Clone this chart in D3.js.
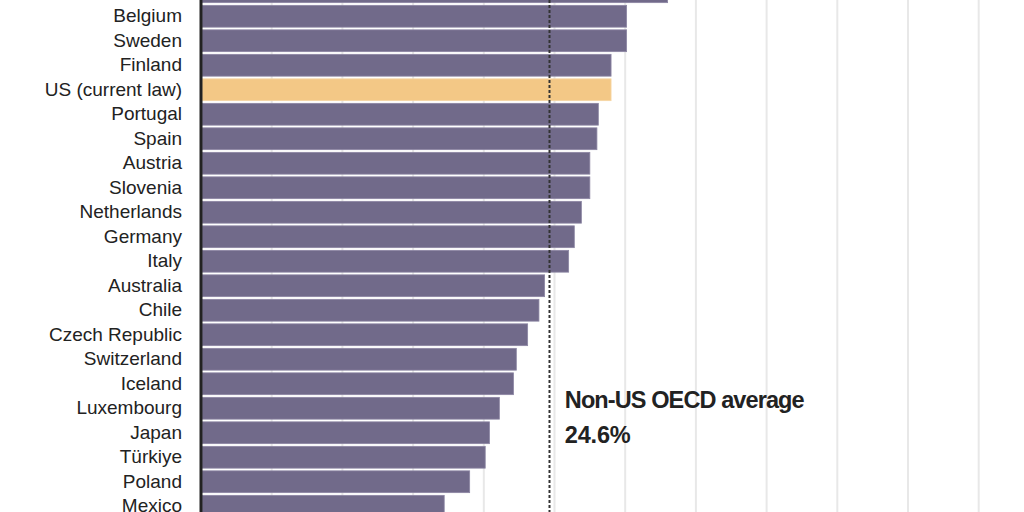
<!DOCTYPE html>
<html>
<head>
<meta charset="utf-8">
<script src="https://cdn.jsdelivr.net/npm/d3@7"></script>
<style>
  body { margin: 0; background: #fff; }
  svg { display: block; }
</style>
</head>
<body>
<div id="chart"></div>
<script>
// countries top to bottom, first row is cut off at the top of the frame
var countries = ["France", "Belgium", "Sweden", "Finland", "US (current law)", "Portugal", "Spain",
  "Austria", "Slovenia", "Netherlands", "Germany", "Italy", "Australia", "Chile",
  "Czech Republic", "Switzerland", "Iceland", "Luxembourg", "Japan", "Türkiye", "Poland", "Mexico"];
var rates = [33.0, 30.1, 30.1, 29.0, 29.0, 28.1, 28.0, 27.5, 27.5, 26.9, 26.4, 26.0,
  24.3, 23.9, 23.1, 22.3, 22.1, 21.1, 20.4, 20.1, 19.0, 17.2];
var highlight = "US (current law)";
var average = 24.6;
var gridTicks = [0, 5, 10, 15, 20, 25, 30, 35, 40, 45, 50, 55, 60];

var W = 1024, H = 512;
var margin = {top: -20.5, left: 201};

var svg = d3.select("#chart").append("svg")
    .attr("width", W)
    .attr("height", H);

var x = d3.scaleLinear()
    .domain([0, 60])
    .range([margin.left, margin.left + 60 * 14.14]);

var y = d3.scaleBand()
    .domain(countries)
    .range([margin.top, margin.top + countries.length * 24.5])
    .paddingInner(0.11)
    .paddingOuter(0.055);

// grid lines
svg.append("g")
    .selectAll("line")
    .data(gridTicks.slice(1))
    .enter().append("line")
    .attr("x1", function(d) { return x(d); })
    .attr("x2", function(d) { return x(d); })
    .attr("y1", 0)
    .attr("y2", H)
    .attr("stroke", "#e8e8e8")
    .attr("stroke-width", 2);

// bars
svg.append("g")
    .selectAll("rect")
    .data(countries)
    .enter().append("rect")
    .attr("x", x(0) + 1)
    .attr("y", function(d) { return y(d); })
    .attr("width", function(d, i) { return x(rates[i]) - x(0) - 1; })
    .attr("height", y.bandwidth())
    .attr("fill", function(d) { return d === highlight ? "#f3c886" : "#716a8a"; })
    .attr("stroke", function(d) { return d === highlight ? "#f6d6a4" : "#8c86a3"; })
    .attr("stroke-width", 0.8);

// labels
svg.append("g")
    .selectAll("text")
    .data(countries)
    .enter().append("text")
    .attr("x", 182)
    .attr("y", function(d) { return y(d) + y.bandwidth() / 2 - 0.5; })
    .attr("dy", "0.35em")
    .attr("text-anchor", "end")
    .attr("font-family", "'Liberation Sans', Arial, sans-serif")
    .attr("font-size", 19)
    .attr("fill", "#222")
    .text(function(d) { return d; });

// axis line
svg.append("line")
    .attr("x1", x(0))
    .attr("x2", x(0))
    .attr("y1", 0)
    .attr("y2", H)
    .attr("stroke", "#222")
    .attr("stroke-width", 3);

// average line
svg.append("line")
    .attr("x1", Math.round(x(average)) + 0.5)
    .attr("x2", Math.round(x(average)) + 0.5)
    .attr("y1", 0)
    .attr("y2", H)
    .attr("stroke", "#333")
    .attr("stroke-width", 2)
    .attr("stroke-dasharray", "3,2");

var note = svg.append("g")
    .attr("font-family", "'Liberation Sans', Arial, sans-serif")
    .attr("font-weight", "bold")
    .attr("font-size", 23.5)
    .attr("letter-spacing", "-0.9px")
    .attr("fill", "#222");

note.append("text")
    .attr("x", x(average) + 16)
    .attr("y", 408)
    .text("Non-US OECD average");

note.append("text")
    .attr("x", x(average) + 16)
    .attr("y", 443)
    .attr("letter-spacing", "-0.2px")
    .text(d3.format(".1f")(average) + "%");
</script>
</body>
</html>
